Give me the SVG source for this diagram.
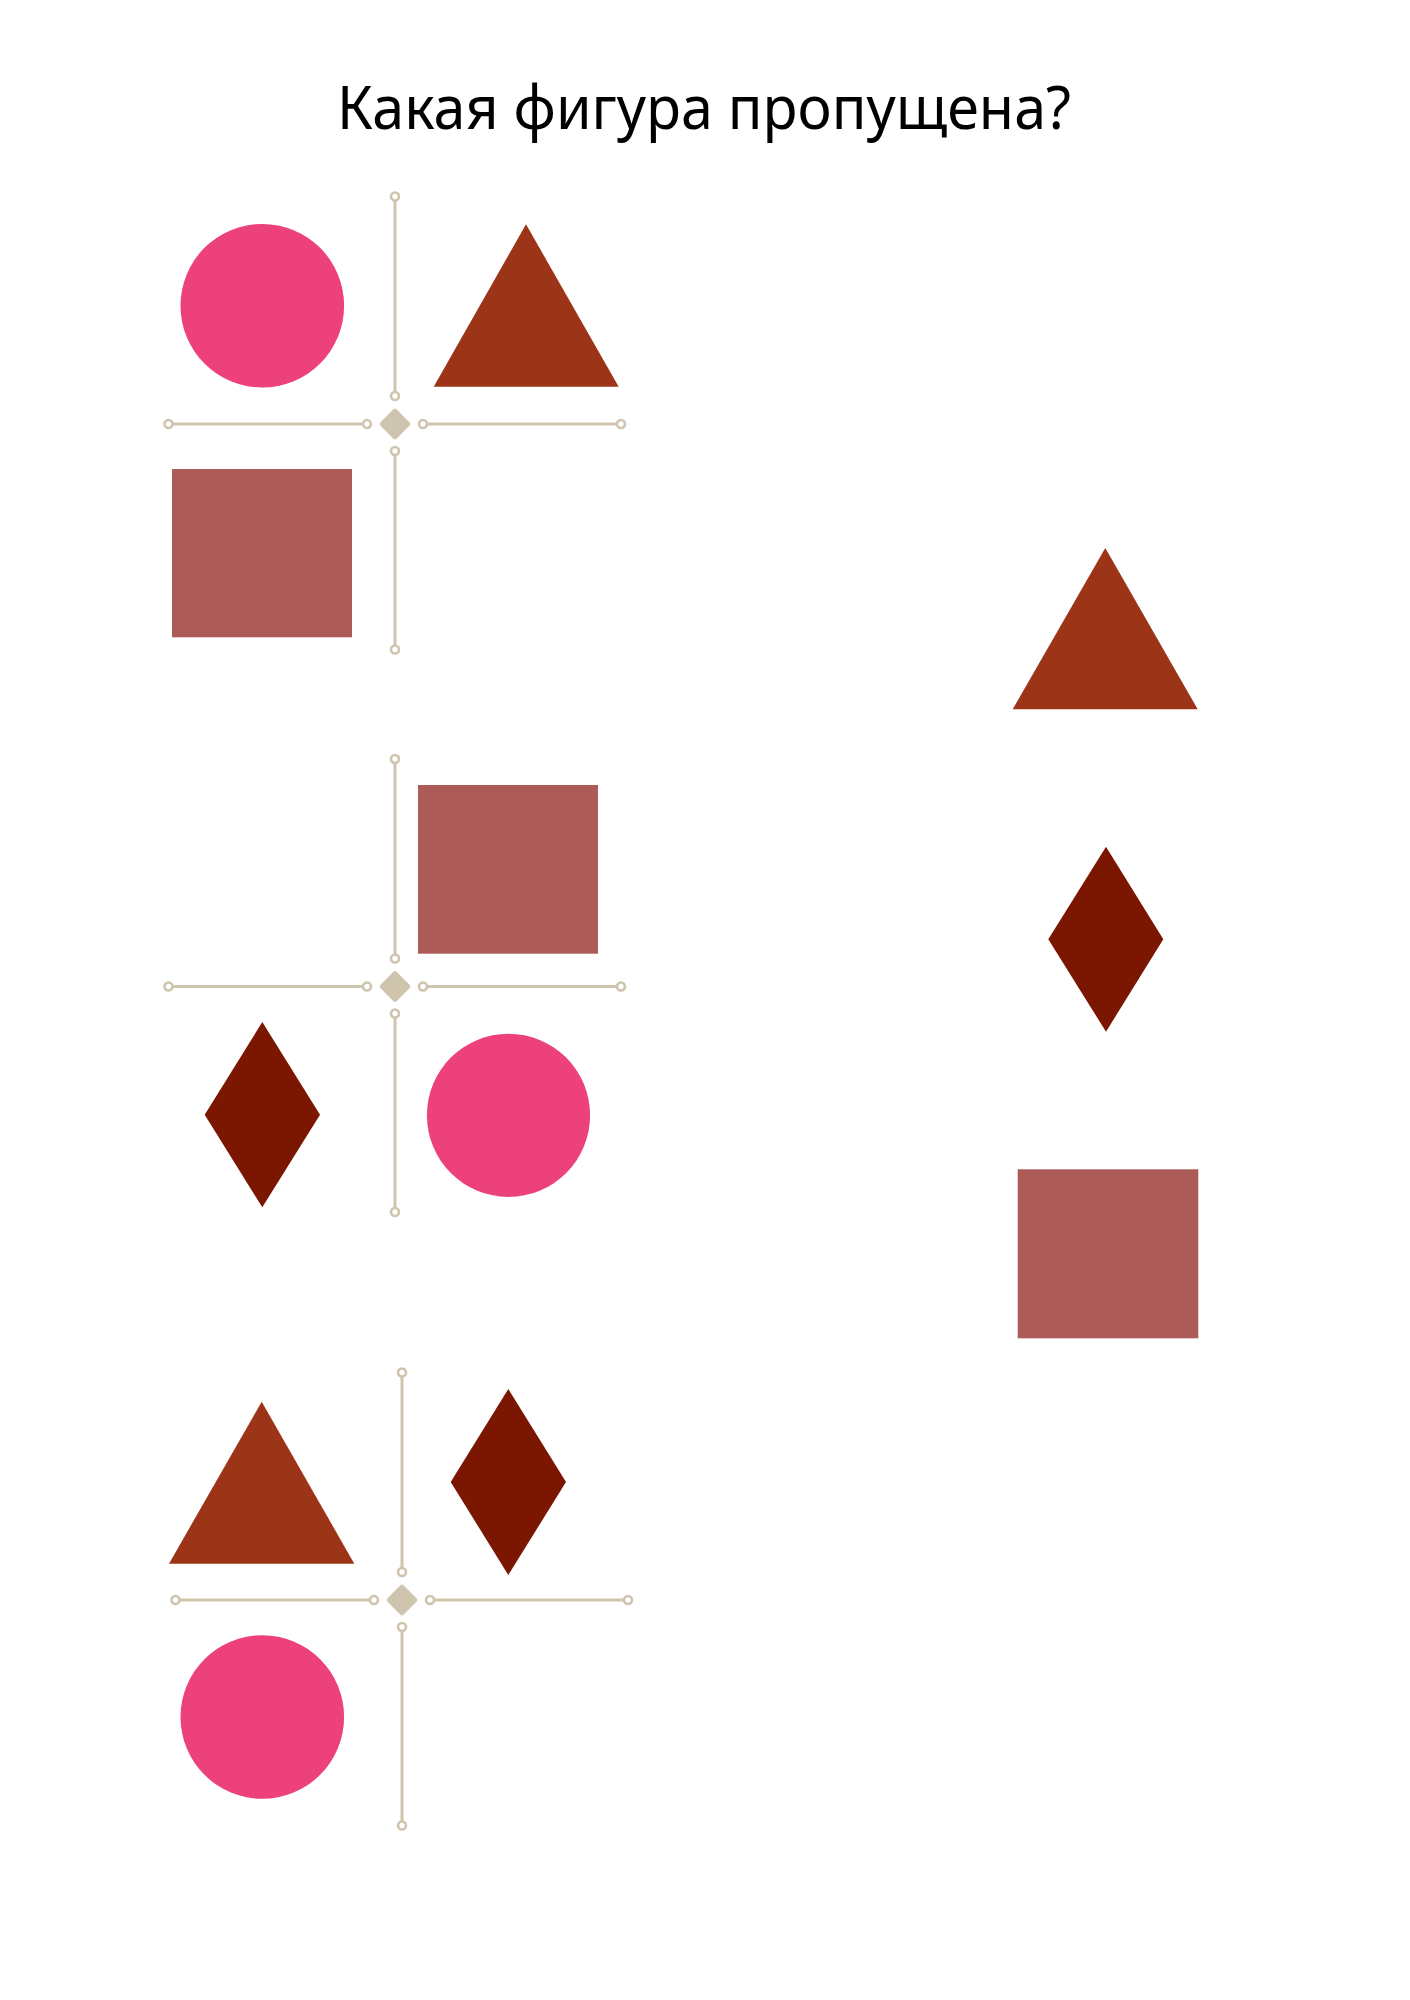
<svg xmlns="http://www.w3.org/2000/svg" xmlns:xlink="http://www.w3.org/1999/xlink" width="1410" height="2000" viewBox="0 0 1410 2000">
<style>
.title{font-family:"Noto Sans","Open Sans","DejaVu Sans",sans-serif;font-size:60px;fill:#000000}
.circle{fill:#EC417A}
.tri{fill:#9C3418}
.sq{fill:#AC5B58}
.rh{fill:#7B1700}
.xl{stroke:#CFC4AE;stroke-width:3;fill:none}
.ring{stroke:#CFC4AE;stroke-width:2.6;fill:#ffffff}
.dm{fill:#CFC4AE}
</style>
<defs>
<g id="cross">
<line class="xl" x1="0" y1="-223.5" x2="0" y2="-32"/>
<line class="xl" x1="0" y1="31" x2="0" y2="221.5"/>
<line class="xl" x1="-222.5" y1="0" x2="-32" y2="0"/>
<line class="xl" x1="32" y1="0" x2="222" y2="0"/>
<circle class="ring" cx="0" cy="-227.5" r="4"/>
<circle class="ring" cx="0" cy="-28" r="4"/>
<circle class="ring" cx="0" cy="27" r="4"/>
<circle class="ring" cx="0" cy="225.5" r="4"/>
<circle class="ring" cx="-226.5" cy="0" r="4"/>
<circle class="ring" cx="-28" cy="0" r="4"/>
<circle class="ring" cx="28" cy="0" r="4"/>
<circle class="ring" cx="226" cy="0" r="4"/>
<rect class="dm" x="-11.5" y="-11.5" width="23" height="23" rx="2.5" transform="rotate(45)"/>
</g>
</defs>
<rect width="1410" height="2000" fill="#ffffff"/>
<text id="title" class="title" x="704" y="129" text-anchor="middle" textLength="734" lengthAdjust="spacingAndGlyphs">Какая фигура пропущена?</text>
<g id="connectors">
<use xlink:href="#cross" href="#cross" transform="translate(395,424)"/>
<use xlink:href="#cross" href="#cross" transform="translate(395,986.5)"/>
<use xlink:href="#cross" href="#cross" transform="translate(402,1600)"/>
</g>
<g id="p1-circle"><circle class="circle" cx="262.3" cy="305.7" r="81.8"/></g>
<g id="p1-triangle"><polygon class="tri" points="526,224.3 618.7,386.7 433.7,386.7"/></g>
<g id="p1-square"><rect class="sq" x="172" y="469" width="180" height="168.3"/></g>
<g id="p2-square"><rect class="sq" x="418" y="785" width="180" height="168.7"/></g>
<g id="p2-rhombus"><polygon class="rh" points="262.3,1022 320,1114.7 262.3,1207.3 204.7,1114.7"/></g>
<g id="p2-circle"><circle class="circle" cx="508.5" cy="1115.3" r="81.6"/></g>
<g id="p3-triangle"><polygon class="tri" points="261.7,1401.7 354.3,1563.7 169,1563.7"/></g>
<g id="p3-rhombus"><polygon class="rh" points="508.3,1389 566,1482 508.3,1575 450.7,1482"/></g>
<g id="p3-circle"><circle class="circle" cx="262.3" cy="1717" r="81.8"/></g>
<g id="opt-triangle"><polygon class="tri" points="1105.3,548 1197.7,709.3 1012.7,709.3"/></g>
<g id="opt-rhombus"><polygon class="rh" points="1106,846.7 1163.3,939.3 1106,1031.7 1048.3,939.3"/></g>
<g id="opt-square"><rect class="sq" x="1017.7" y="1169.3" width="180.6" height="169"/></g>
</svg>
